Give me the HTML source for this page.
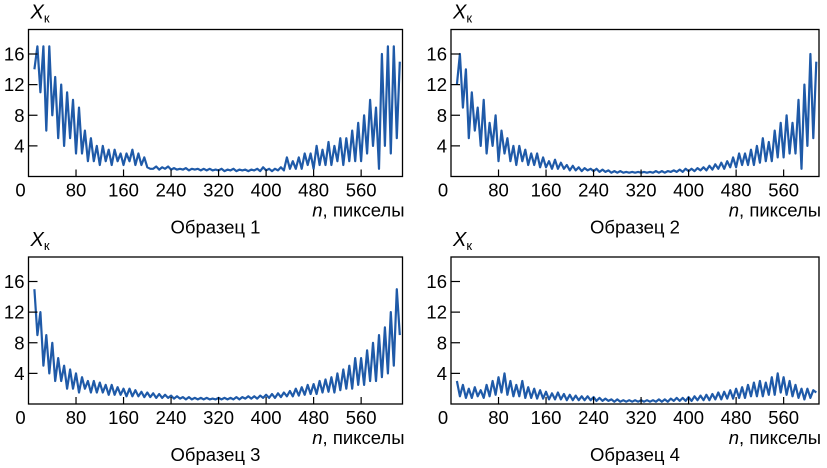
<!DOCTYPE html>
<html><head><meta charset="utf-8"><style>
body{margin:0;background:#fff;}
svg{display:block;font-family:"Liberation Sans",sans-serif;}
</style></head><body>
<svg id="chart" width="827" height="468" viewBox="0 0 827 468"></svg>
<script>
const nStart = 10, nStep = 5;
const xTicks = [0,80,160,240,320,400,480,560];
const yTicks = [4,8,12,16];
const titles = ["Образец 1","Образец 2","Образец 3","Образец 4"];
const s1 = [14,17,11,17,6,17,8,13,5,12, 4,11,5,10,3,9,3,6,2,5, 2,4,1.5,4,2,3.5,1.5,3.5,2,3, 1.5,3,2,3.5,1.5,3,1.5,2.5,1.2,1, 1,1.3,0.9,1.2,1,1.3,0.9,1.1,0.9,1, 0.9,1.1,0.8,1,0.9,1,0.8,1,0.8,1, 0.8,0.9,0.8,1,0.7,0.9,0.8,1,0.7,0.9, 0.8,0.9,0.7,0.9,0.8,1,0.7,1.2,0.8,1, 0.7,1,0.8,1.2,0.8,2.5,1,2,1,2.5, 1,3,1.5,3,1,4,1.5,3.5,1.5,4.5, 1.5,4,2,5,1.5,5,2,6,2,7, 2,8,3,10,4,9,1,16,4,17, 3,17,5,15];
const s2 = [12,16,9,14,5,11,6,9,4,10, 3,7,4,8,2,6,3,5,2,4, 1.5,4,2,3.5,1.5,3,1.5,3,1.2,2.5, 1.2,2,1,2.2,1,1.8,1,1.5,0.8,1.4, 0.8,1.2,0.7,1.1,0.8,1,0.7,1,0.6,0.9, 0.6,0.8,0.5,0.7,0.5,0.7,0.5,0.6,0.5,0.6, 0.5,0.6,0.5,0.6,0.5,0.6,0.5,0.7,0.5,0.7, 0.5,0.7,0.6,0.8,0.6,0.9,0.6,1,0.7,1, 0.7,1.1,0.8,1.2,0.8,1.4,0.9,1.6,1,1.8, 1,2,1.2,2.5,1.2,3,1.5,3,1.5,3.5, 1.5,4,1.8,5,2,4.5,2,6,2.5,7, 2.5,8,3,7,3,10,1,12,4,16, 5,15];
const s3 = [15,9,12,5,9,4,8,3,6,3, 5,2,4.5,2,4,1.5,3.5,2,3,1.5, 3,1.5,2.8,1.5,2.5,1.2,2.5,1.2,2.2,1.2, 2,1,2,1,1.8,1,1.6,0.9,1.5,0.9, 1.4,0.8,1.3,0.8,1.2,0.8,1.1,0.7,1,0.7, 0.9,0.6,0.9,0.6,0.8,0.6,0.8,0.6,0.8,0.6, 0.7,0.6,0.8,0.6,0.8,0.6,0.8,0.6,0.9,0.6, 0.9,0.7,1,0.7,1,0.7,1.1,0.8,1.2,0.8, 1.3,0.8,1.4,0.9,1.5,1,1.7,1,2,1.1, 2.2,1.2,2.5,1.3,2.6,1.3,3,1.5,3.2,1.6, 3.5,1.5,4,1.8,4.5,2,5,2,6,2.5, 6,2.5,7,3,8,3,9,3.5,10,4, 12,5,15,9];
const s4 = [3,1,2.5,0.8,2,0.8,2.2,1,1.8,0.8, 2.5,1,3,1.2,3.5,1.5,4,1.2,3,1, 2.5,1,3,0.8,2.2,0.8,2,0.7,1.8,0.7, 1.6,0.6,1.4,0.6,1.5,0.6,1.3,0.5,1.2,0.5, 1.1,0.5,1,0.5,1,0.5,0.9,0.4,0.8,0.4, 0.7,0.4,0.6,0.3,0.6,0.3,0.5,0.3,0.5,0.3, 0.5,0.3,0.5,0.3,0.5,0.3,0.5,0.3,0.6,0.3, 0.6,0.3,0.7,0.4,0.8,0.4,0.8,0.4,0.9,0.4, 1,0.5,1.1,0.5,1.2,0.5,1.3,0.6,1.5,0.6, 1.6,0.7,1.8,0.7,2,0.8,2.2,0.8,2.5,1, 2.8,1,3,1,2.8,1.2,3.5,1.2,4,1.5, 3.5,1.2,3,1,2.5,0.8,2,0.6,2,0.8, 1.8,1.5];
const series = [s1,s2,s3,s4];

const NS = "http://www.w3.org/2000/svg";
const svg = document.getElementById('chart');
const panels = [{x:28.5,y:29.5,w:374},{x:451,y:29.5,w:368},{x:28.5,y:257,w:374},{x:451,y:257,w:368}];
const H = 147, XSCALE = 0.594, YMAX = 19.2;
function mk(tag, attrs, parent){const e=document.createElementNS(NS,tag);for(const k in attrs)e.setAttribute(k,attrs[k]);(parent||svg).appendChild(e);return e;}

panels.forEach((p,i)=>{
  const W = p.w;
  const g = mk('g',{});
  
  
  const xS = v => p.x + v*XSCALE;
  const yS = v => p.y + H - v/YMAX*H;
  const d = series[i].map((v,j)=>(j?'L':'M')+xS(nStart+j*nStep).toFixed(1)+','+yS(v).toFixed(1)).join('');
  const line = mk('path',{d:d,fill:'none',stroke:'#1f5aa8','stroke-width':2.2,'stroke-linejoin':'round'},g);
  
  
  const box = mk('rect',{x:p.x,y:p.y,width:W,height:H,fill:'none',stroke:'#000','stroke-width':1.3},g);
  
  
  yTicks.forEach(t=>{
    const tk = mk('line',{x1:p.x,x2:p.x+9,y1:yS(t),y2:yS(t),stroke:'#000','stroke-width':1.2},g);
    
    
    const tl = mk('text',{x:p.x-4,y:yS(t)+6.5,'text-anchor':'end','font-size':18.5},g);
    tl.textContent = t;
    
    
  });
  xTicks.forEach(t=>{
    if(t>0){
      const tk = mk('line',{x1:xS(t),x2:xS(t),y1:p.y+H,y2:p.y+H-7,stroke:'#000','stroke-width':1.2},g);
      
      
    }
    const tl = mk('text',{x:t===0?xS(t)-8:xS(t),y:p.y+H+20,'text-anchor':'middle','font-size':18.5},g);
    tl.textContent = t;
    
    
  });
  const yl = mk('text',{x:p.x+2,y:p.y-11,'font-size':20},g);
  yl.innerHTML = '<tspan font-style="italic">X</tspan><tspan font-size="13" dy="4">к</tspan>';
  
  
  const xl = mk('text',{x:p.x+W+2,y:p.y+H+40,'text-anchor':'end','font-size':18.5},g);
  xl.innerHTML = '<tspan font-style="italic">n</tspan>, пикселы';
  
  
  const tt = mk('text',{x:p.x+W/2,y:p.y+H+57,'text-anchor':'middle','font-size':18.5},g);
  tt.textContent = titles[i];
  
  
});
</script>
</body></html>
